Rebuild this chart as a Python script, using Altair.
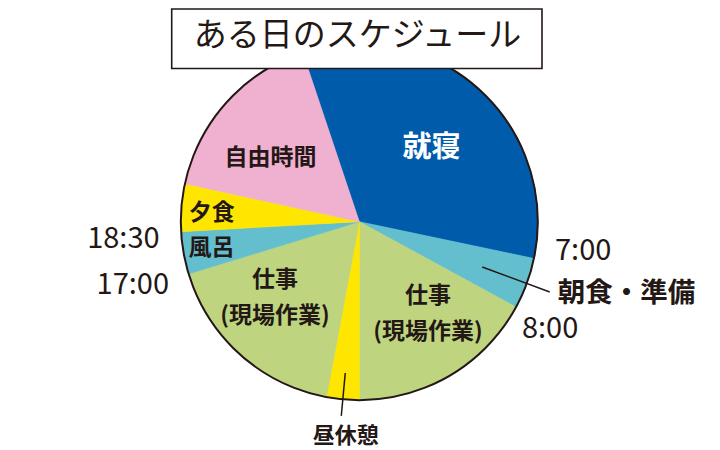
import math
import altair as alt
import pandas as pd

# ---- data ----
activities = ["就寝", "朝食・準備", "仕事\n(現場作業)", "昼休憩", "仕事\n(現場作業)", "風呂", "夕食", "自由時間"]
drawn_angle = [120.4, 16.7, 61.4, 10.6, 62.4, 13.8, 15.5, 59.2]   # share of the circle as drawn (degrees)
start_time = ["", "7:00", "8:00", "", "", "17:00", "18:30", ""]
title_text = "ある日のスケジュール"

color_domain = ["就寝", "朝食・準備", "仕事\n(現場作業)", "昼休憩", "風呂", "夕食", "自由時間"]
color_range = ["#005BAB", "#63BFCE", "#BED47F", "#FFE600", "#63BFCE", "#FFE600", "#F0B0CF"]

# ---- layout / style ----
FONT = "Noto Sans CJK JP"
INK = "#231815"
CX, CY, R = 351.3, 213.7, 178.5
START = math.radians(-18.5)
TOTAL = sum(drawn_angle)

df = pd.DataFrame({"order": list(range(1, len(activities) + 1)), "name": activities,
                   "angle": drawn_angle, "start": start_time})

base = (alt.Chart(df)
        .transform_window(cum_end="sum(angle)", sort=[alt.SortField("order")], frame=[None, 0])
        .transform_calculate(cum_start="datum.cum_end - datum.angle")
        .transform_calculate(mid="datum.cum_start + datum.angle / 2"))

theta_scale = alt.Scale(domain=[0, TOTAL], range=[START, START + 2 * math.pi])
color_scale = alt.Scale(domain=color_domain, range=color_range)

pie = base.mark_arc(radius=R, strokeWidth=0.6).encode(
    theta=alt.Theta("cum_start:Q", scale=theta_scale, stack=None),
    theta2="cum_end:Q",
    color=alt.Color("name:N", scale=color_scale, legend=None),
    stroke=alt.Stroke("name:N", scale=color_scale, legend=None),
    x=alt.value(CX), y=alt.value(CY),
)

outline = alt.Chart(pd.DataFrame({"k": [0]})).mark_arc(
    radius=R, theta=0, theta2=2 * math.pi, fillOpacity=0, stroke=INK, strokeWidth=2
).encode(x=alt.value(CX), y=alt.value(CY))


def label(order, r, dx, dy, size, field="name", at="mid", weight="bold", color=INK, align="center"):
    return base.transform_filter(alt.datum.order == order).mark_text(
        radius=r, dx=dx, dy=dy, fontSize=size, fontWeight=weight, color=color, align=align,
        baseline="middle", font=FONT, lineBreak="\n", lineHeight=36,
    ).encode(
        theta=alt.Theta(f"{at}:Q", scale=theta_scale, stack=None),
        text=f"{field}:N",
        x=alt.value(CX), y=alt.value(CY),
    )


def leader(order, r1, r2):
    th = f"({START} + datum.mid * {2 * math.pi / TOTAL})"
    return (base.transform_filter(alt.datum.order == order)
            .transform_calculate(lx1=f"{CX} + {r1} * sin({th})", ly1=f"{CY} - {r1} * cos({th})",
                                 lx2=f"{CX} + {r2} * sin({th})", ly2=f"{CY} - {r2} * cos({th})")
            .mark_rule(color=INK, strokeWidth=1.5)
            .encode(x=alt.X("lx1:Q", scale=None), y=alt.Y("ly1:Q", scale=None),
                    x2="lx2:Q", y2="ly2:Q"))


slice_labels = [
    label(1, 104, 3, 4, 29, color="white"),   # 就寝
    label(8, 110, -7, 10, 23),                # 自由時間
    label(7, 148, 0, 3, 23),                  # 夕食
    label(6, 150, 0, 0, 23),                  # 風呂
    label(5, 113, -9, -26, 23),               # 仕事 (left)
    label(3, 113, 11, -23, 23),               # 仕事 (right)
    label(2, 205, 6, 1, 27.5, align="left"),  # 朝食・準備
    label(4, 213, 6, 2, 22),                  # 昼休憩
]
time_labels = [
    label(2, 200, 0, -12, 29, field="start", at="cum_start", weight="normal", align="left"),
    label(3, 200, -13, 12, 29, field="start", at="cum_start", weight="normal", align="left"),
    label(6, 200, 1, 5, 29, field="start", at="cum_start", weight="normal", align="right"),
    label(7, 200, 0, 6, 29, field="start", at="cum_start", weight="normal", align="right"),
]
leaders = [leader(2, 131, 203), leader(4, 152, 195)]

tdf = pd.DataFrame({"t": [title_text]})
title_box = alt.Chart(tdf).mark_rect(fill="white", stroke=INK, strokeWidth=1.6).encode(
    x=alt.value(163.7), x2=alt.value(534), y=alt.value(1), y2=alt.value(60.5))
title = alt.Chart(tdf).mark_text(fontSize=33, font=FONT, color=INK, align="center",
                                 baseline="middle").encode(
    text="t:N", x=alt.value(349.5), y=alt.value(28))

chart = alt.layer(pie, outline, *leaders, *slice_labels, *time_labels, title_box, title).properties(
    width=704, height=450, padding=0, autosize=alt.AutoSizeParams(type="none")
).configure_view(strokeWidth=0)

chart.save("out.html", embed_options={"renderer": "svg", "actions": False})
